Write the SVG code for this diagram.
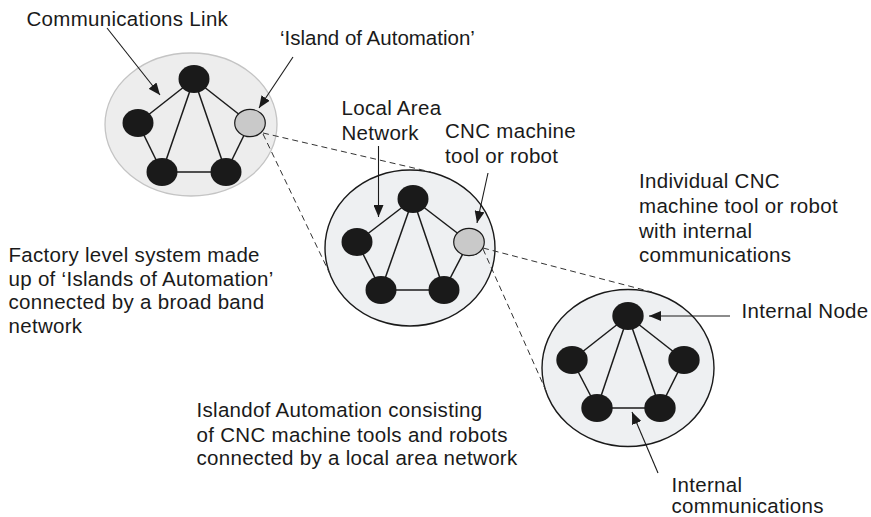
<svg xmlns="http://www.w3.org/2000/svg" width="871" height="517" viewBox="0 0 871 517">
  <defs>
    <marker id="arrow" viewBox="0 0 12 10" refX="12" refY="5" markerWidth="12" markerHeight="10" markerUnits="userSpaceOnUse" orient="auto">
      <path d="M0,0 L12,5 L0,10 Z" fill="#1a1a1a"/>
    </marker>
    <style>
      text { font-family: "Liberation Sans", Arial, Helvetica, sans-serif; font-size: 20.5px; letter-spacing: 0.3px; fill: #1a1a1a; }
      text.tight { letter-spacing: 0; }
      .island-outer { fill: #ededed; stroke: #c4c4c4; stroke-width: 1.3; }
      .island { fill: #eef0f2; stroke: #1a1a1a; stroke-width: 1.4; }
      .node { fill: #1a1a1a; }
      .node-sel { fill: #c9c9c9; stroke: #1a1a1a; stroke-width: 1.2; }
      .link { stroke: #1a1a1a; stroke-width: 1.5; fill: none; }
      .zoom { stroke: #333; stroke-width: 1; stroke-dasharray: 6 4; fill: none; }
      .pointer { stroke: #1a1a1a; stroke-width: 1.1; fill: none; marker-end: url(#arrow); }
    </style>
  </defs>

  <!-- factory level system -->
  <g id="factory">
    <ellipse class="island-outer" cx="191" cy="124.5" rx="86" ry="71.5"/>
    <g class="links">
      <line class="link" x1="194" y1="79" x2="138" y2="123"/>
      <line class="link" x1="194" y1="79" x2="162" y2="172"/>
      <line class="link" x1="194" y1="79" x2="226" y2="172"/>
      <line class="link" x1="194" y1="79" x2="250" y2="123"/>
      <line class="link" x1="138" y1="123" x2="162" y2="172"/>
      <line class="link" x1="250" y1="123" x2="226" y2="172"/>
      <line class="link" x1="162" y1="172" x2="226" y2="172"/>
    </g>
    <ellipse class="node" cx="194" cy="79" rx="15.5" ry="14"/>
    <ellipse class="node" cx="138" cy="123" rx="15.5" ry="14"/>
    <ellipse class="node" cx="162" cy="172" rx="15.5" ry="14"/>
    <ellipse class="node" cx="226" cy="172" rx="15.5" ry="14"/>
    <ellipse class="node-sel" cx="250" cy="123" rx="15.3" ry="13.7"/>
  </g>

  <!-- island of automation -->
  <g id="island">
    <ellipse class="island" cx="410" cy="248" rx="85" ry="78"/>
    <line class="link" x1="413" y1="199" x2="357" y2="242"/>
    <line class="link" x1="413" y1="199" x2="381" y2="290"/>
    <line class="link" x1="413" y1="199" x2="444" y2="290"/>
    <line class="link" x1="413" y1="199" x2="469" y2="242"/>
    <line class="link" x1="357" y1="242" x2="381" y2="290"/>
    <line class="link" x1="469" y1="242" x2="444" y2="290"/>
    <line class="link" x1="381" y1="290" x2="444" y2="290"/>
    <ellipse class="node" cx="413" cy="199" rx="15.5" ry="14"/>
    <ellipse class="node" cx="357" cy="242" rx="15.5" ry="14"/>
    <ellipse class="node" cx="381" cy="290" rx="15.5" ry="14"/>
    <ellipse class="node" cx="444" cy="290" rx="15.5" ry="14"/>
    <ellipse class="node-sel" cx="469" cy="242" rx="15.3" ry="13.7"/>
  </g>

  <!-- individual machine -->
  <g id="machine">
    <ellipse class="island" cx="628" cy="368" rx="86" ry="78.5"/>
    <line class="link" x1="628" y1="316" x2="572" y2="360"/>
    <line class="link" x1="628" y1="316" x2="684" y2="360"/>
    <line class="link" x1="628" y1="316" x2="597" y2="408"/>
    <line class="link" x1="628" y1="316" x2="660" y2="408"/>
    <line class="link" x1="572" y1="360" x2="597" y2="408"/>
    <line class="link" x1="684" y1="360" x2="660" y2="408"/>
    <line class="link" x1="597" y1="408" x2="660" y2="408"/>
    <ellipse class="node" cx="628" cy="316" rx="15.7" ry="14"/>
    <ellipse class="node" cx="572" cy="360" rx="15.7" ry="14"/>
    <ellipse class="node" cx="684" cy="360" rx="15.7" ry="14"/>
    <ellipse class="node" cx="597" cy="408" rx="15.7" ry="14"/>
    <ellipse class="node" cx="660" cy="408" rx="15.7" ry="14"/>
  </g>

  <!-- connectors: zoom-in dashes and label pointers -->
  <g id="connectors">
    <line class="zoom" x1="263" y1="133" x2="431" y2="172"/>
    <line class="zoom" x1="263" y1="134" x2="330" y2="274"/>
    <line class="zoom" x1="483" y1="248" x2="652" y2="292"/>
    <line class="zoom" x1="483" y1="249" x2="547" y2="393"/>

    <line class="pointer" x1="107" y1="28" x2="160" y2="95"/>
    <line class="pointer" x1="293" y1="57" x2="259" y2="108"/>
    <line class="pointer" x1="378.5" y1="146" x2="378.5" y2="217"/>
    <line class="pointer" x1="488" y1="173" x2="477" y2="223"/>
    <line class="pointer" x1="730" y1="316" x2="649" y2="316"/>
    <line class="pointer" x1="658" y1="473" x2="632" y2="412"/>
  </g>

  <!-- labels -->
  <g id="labels">
    <text x="26.5" y="26">Communications Link</text>
    <text class="tight" x="280" y="45">‘Island of Automation’</text>
    <text x="341.5" y="115">Local Area</text>
    <text x="341.5" y="140">Network</text>
    <text x="445" y="138">CNC machine</text>
    <text x="445" y="163">tool or robot</text>
    <text x="639" y="188">Individual CNC</text>
    <text x="639" y="213">machine tool or robot</text>
    <text x="639" y="238">with internal</text>
    <text x="639" y="262">communications</text>
    <text x="741.5" y="318">Internal Node</text>
    <text x="8.5" y="262">Factory level system made</text>
    <text x="8.5" y="285.5">up of ‘Islands of Automation’</text>
    <text x="8.5" y="309">connected by a broad band</text>
    <text x="8.5" y="333">network</text>
    <text x="196.5" y="417">Islandof Automation consisting</text>
    <text x="196.5" y="441.5">of CNC machine tools and robots</text>
    <text x="196.5" y="465">connected by a local area network</text>
    <text x="671.5" y="492">Internal</text>
    <text x="671.5" y="513">communications</text>
  </g>
</svg>
